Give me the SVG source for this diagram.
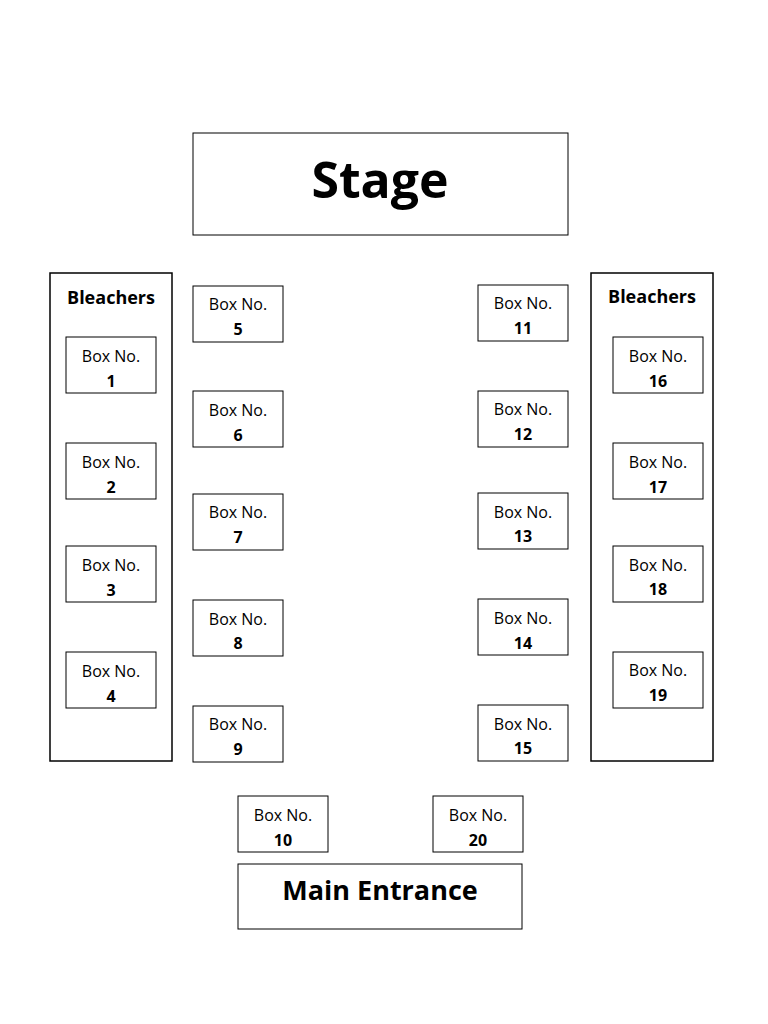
<svg xmlns="http://www.w3.org/2000/svg" width="768" height="1024" viewBox="0 0 768 1024">
<style>
rect{fill:#fff;stroke:#000;stroke-width:1}
text{font-family:"Open Sans","Liberation Sans",sans-serif;text-anchor:middle;fill:#000}
.l{font-size:16px}
.n{font-size:16px;font-weight:bold}
.h{font-size:18px;font-weight:bold}
</style>
<rect x="0" y="0" width="768" height="1024" style="stroke:none"/>
<g id="stage"><rect x="193" y="133" width="375" height="102"/><text x="380" y="198" style="font-size:50px;font-weight:bold">Stage</text></g>
<g id="bleachers-left"><rect x="50" y="273" width="122" height="488" style="stroke-width:1.5"/><text class="h" x="111" y="304">Bleachers</text></g>
<g id="bleachers-right"><rect x="591" y="273" width="122" height="488" style="stroke-width:1.5"/><text class="h" x="652" y="303">Bleachers</text></g>
<g id="box1"><rect x="66" y="337" width="90" height="56"/><text class="l" x="111" y="362">Box No.</text><text class="n" x="111" y="387">1</text></g>
<g id="box2"><rect x="66" y="443" width="90" height="56"/><text class="l" x="111" y="468">Box No.</text><text class="n" x="111" y="493">2</text></g>
<g id="box3"><rect x="66" y="546" width="90" height="56"/><text class="l" x="111" y="571">Box No.</text><text class="n" x="111" y="596">3</text></g>
<g id="box4"><rect x="66" y="652" width="90" height="56"/><text class="l" x="111" y="677">Box No.</text><text class="n" x="111" y="702">4</text></g>
<g id="box5"><rect x="193" y="286" width="90" height="56"/><text class="l" x="238" y="310">Box No.</text><text class="n" x="238" y="335">5</text></g>
<g id="box6"><rect x="193" y="391" width="90" height="56"/><text class="l" x="238" y="416">Box No.</text><text class="n" x="238" y="441">6</text></g>
<g id="box7"><rect x="193" y="494" width="90" height="56"/><text class="l" x="238" y="518">Box No.</text><text class="n" x="238" y="543">7</text></g>
<g id="box8"><rect x="193" y="600" width="90" height="56"/><text class="l" x="238" y="625">Box No.</text><text class="n" x="238" y="649">8</text></g>
<g id="box9"><rect x="193" y="706" width="90" height="56"/><text class="l" x="238" y="730">Box No.</text><text class="n" x="238" y="755">9</text></g>
<g id="box10"><rect x="238" y="796" width="90" height="56"/><text class="l" x="283" y="821">Box No.</text><text class="n" x="283" y="846">10</text></g>
<g id="box11"><rect x="478" y="285" width="90" height="56"/><text class="l" x="523" y="309">Box No.</text><text class="n" x="523" y="334">11</text></g>
<g id="box12"><rect x="478" y="391" width="90" height="56"/><text class="l" x="523" y="415">Box No.</text><text class="n" x="523" y="440">12</text></g>
<g id="box13"><rect x="478" y="493" width="90" height="56"/><text class="l" x="523" y="518">Box No.</text><text class="n" x="523" y="542">13</text></g>
<g id="box14"><rect x="478" y="599" width="90" height="56"/><text class="l" x="523" y="624">Box No.</text><text class="n" x="523" y="649">14</text></g>
<g id="box15"><rect x="478" y="705" width="90" height="56"/><text class="l" x="523" y="730">Box No.</text><text class="n" x="523" y="754">15</text></g>
<g id="box16"><rect x="613" y="337" width="90" height="56"/><text class="l" x="658" y="362">Box No.</text><text class="n" x="658" y="387">16</text></g>
<g id="box17"><rect x="613" y="443" width="90" height="56"/><text class="l" x="658" y="468">Box No.</text><text class="n" x="658" y="493">17</text></g>
<g id="box18"><rect x="613" y="546" width="90" height="56"/><text class="l" x="658" y="571">Box No.</text><text class="n" x="658" y="595">18</text></g>
<g id="box19"><rect x="613" y="652" width="90" height="56"/><text class="l" x="658" y="676">Box No.</text><text class="n" x="658" y="701">19</text></g>
<g id="box20"><rect x="433" y="796" width="90" height="56"/><text class="l" x="478" y="821">Box No.</text><text class="n" x="478" y="846">20</text></g>
<g id="entrance"><rect x="238" y="864" width="284" height="65"/><text x="380" y="900" style="font-size:27px;font-weight:bold">Main Entrance</text></g>
<g id="connectors"/>
</svg>
